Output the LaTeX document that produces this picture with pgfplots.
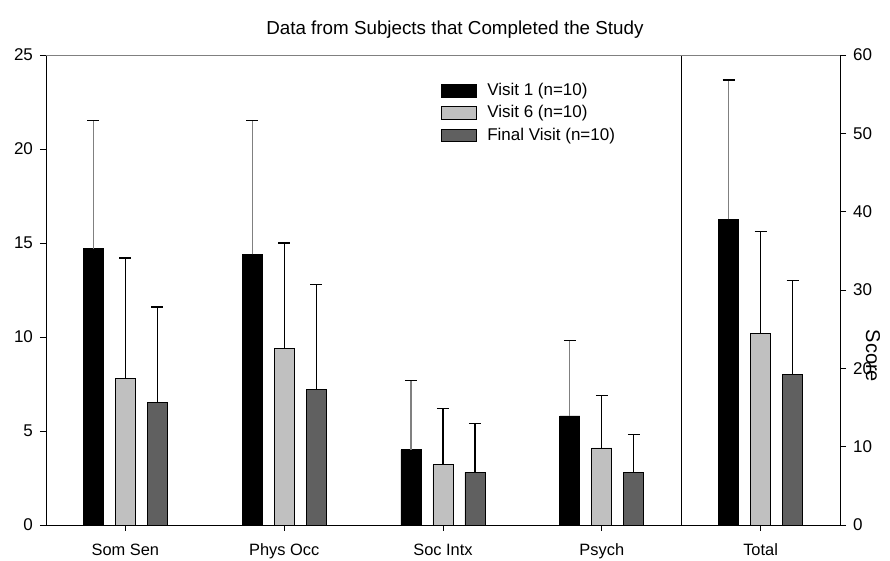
\documentclass[border=0pt]{standalone}
\usepackage{fontspec}
\setmainfont{Liberation Sans}
\usepackage{pgfplots}
\pgfplotsset{compat=1.18}
\definecolor{lgray}{HTML}{C0C0C0}
\definecolor{dgray}{HTML}{606060}
\begin{document}
\begin{tikzpicture}
\pgfplotsset{
  common/.style={
    scale only axis, width=397pt, height=235pt,
    at={(0,0)}, anchor=south west,
    xmin=-0.5, xmax=4.5, ymin=0,
    ybar, bar width=10pt,
    tick style={black, thin},
    tick align=outside,
    major tick length=3pt,
    ticklabel style={font=\fontsize{8.5}{10}\selectfont},
    /pgf/number format/assume math mode=true,
    every axis plot/.append style={draw=black, line width=0.4pt},
    clip=false,
  },
  eb/.style={error bars/.cd, y dir=plus, y explicit,
    error bar style={#1, line width=0.6pt},
    error mark options={black, line width=0.6pt, rotate=90, mark size=3pt}},
}
\begin{axis}[common,
  ymax=25, ytick={0,5,...,25},
  axis y line*=left, axis x line*=bottom,
  xtick={0,1,2,3,4},
  xticklabels={Som Sen, Phys Occ, Soc Intx, Psych, Total},
  x tick label style={yshift=-3pt, font=\fontsize{8.2}{10}\selectfont},
  title={Data from Subjects that Completed the Study},
  title style={at={(0.515,1)}, anchor=south, yshift=-1pt, font=\fontsize{9.4}{11}\selectfont},
  legend style={at={(0.49,0.958)}, anchor=north west, draw=none, fill=none,
    font=\fontsize{8.5}{10}\selectfont, row sep=-0.5pt,
    legend cell align=left},
  legend image code/.code={\draw[#1, draw=black] (0pt,-3.2pt) rectangle (17.5pt,3.2pt); \path (20.5pt,0pt);},
]
\addplot[fill=black, bar shift=-16pt, eb=gray] coordinates {
 (0,14.7) +- (0,6.8)
 (1,14.4) +- (0,7.1)
 (2,4.0) +- (0,3.7)
 (3,5.8) +- (0,4.0)
};
\addlegendentry{Visit 1 (n=10)}
\addplot[fill=lgray, bar shift=0pt, eb=black] coordinates {
 (0,7.8) +- (0,6.4)
 (1,9.4) +- (0,5.6)
 (2,3.2) +- (0,3.0)
 (3,4.1) +- (0,2.8)
};
\addlegendentry{Visit 6 (n=10)}
\addplot[fill=dgray, bar shift=16pt, eb=black] coordinates {
 (0,6.5) +- (0,5.1)
 (1,7.2) +- (0,5.6)
 (2,2.8) +- (0,2.6)
 (3,2.8) +- (0,2.0)
};
\addlegendentry{Final Visit (n=10)}
\draw[black] (axis cs:3.5,0) -- (axis cs:3.5,25);
\draw[gray] (rel axis cs:0,1) -- (rel axis cs:1,1);
\end{axis}
\begin{axis}[common,
  ymax=60, ytick={0,10,...,60},
  axis y line*=right, axis x line=none,
]
\addplot[fill=black, bar shift=-16pt, eb=gray] coordinates {(4,39.0) +- (0,17.8)};
\addplot[fill=lgray, bar shift=0pt, eb=black] coordinates {(4,24.5) +- (0,13.0)};
\addplot[fill=dgray, bar shift=16pt, eb=black] coordinates {(4,19.2) +- (0,12.0)};
\node[rotate=-90, font=\fontsize{10}{12}\selectfont] at ([xshift=16.5pt]rel axis cs:1,0.36) {Score};
\end{axis}
\pgfresetboundingbox
\path[use as bounding box] (-23pt,-18pt) rectangle (422pt,262.5pt);
\end{tikzpicture}
\end{document}
